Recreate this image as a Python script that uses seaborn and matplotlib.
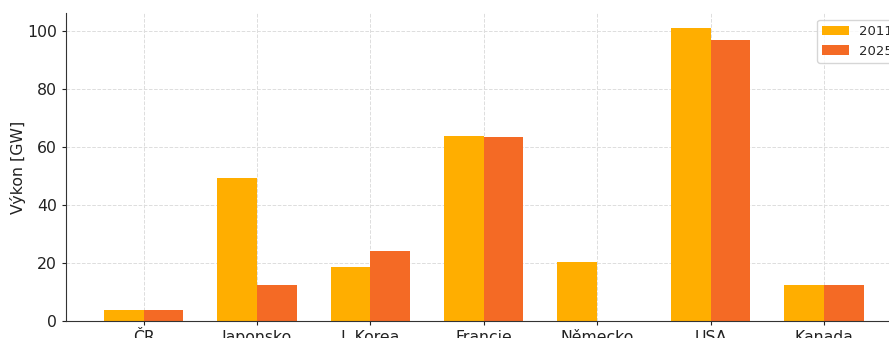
import pandas as pd
import matplotlib
matplotlib.use('Agg')
import matplotlib.pyplot as plt
import seaborn as sns

# data
zeme = ['ČR', 'Japonsko', 'J. Korea', 'Francie', 'Německo', 'USA', 'Kanada']
vykon_2011 = [3.9, 49.3, 18.6, 63.8, 20.3, 101.0, 12.4]
vykon_2025 = [3.9, 12.4, 24.1, 63.4, 0.0, 96.6, 12.5]
roky = ['2011', '2025']
barvy = ['#FFAE00', '#F46A25']

df = pd.DataFrame({'zeme': zeme * 2,
                   'rok': [roky[0]] * len(zeme) + [roky[1]] * len(zeme),
                   'vykon': vykon_2011 + vykon_2025})

sns.set_style('white')
plt.rcParams['font.family'] = ['DejaVu Sans']

fig = plt.figure(figsize=(8.89, 3.38), dpi=100)
ax = fig.add_axes([0.0742, 0.0503, 0.94, 0.911])

sns.barplot(data=df, x='zeme', y='vykon', hue='rok', palette=barvy,
            width=0.7, saturation=1, linewidth=0, edgecolor='none',
            ax=ax, zorder=2)

ax.set_xlim(-0.685, 6.685)
ax.set_ylim(0, 106)
ax.grid(True, linestyle='--', color='#dddddd', linewidth=0.7, zorder=0)
ax.set_axisbelow(True)
ax.spines['top'].set_visible(False)
ax.spines['right'].set_visible(False)
ax.spines['left'].set_color('#333333')
ax.spines['bottom'].set_color('#333333')
ax.tick_params(axis='both', labelsize=11.3, colors='#222222', length=3,
               direction='out', bottom=True, left=True)
ax.set_xlabel('')
ax.set_ylabel('Výkon [GW]', fontsize=11.3, color='#222222', labelpad=1)
ax.legend(loc='upper right', fontsize=9.5, frameon=True, title=None,
          bbox_to_anchor=(1.004, 1.0))

fig.savefig('out.png', dpi=100)
